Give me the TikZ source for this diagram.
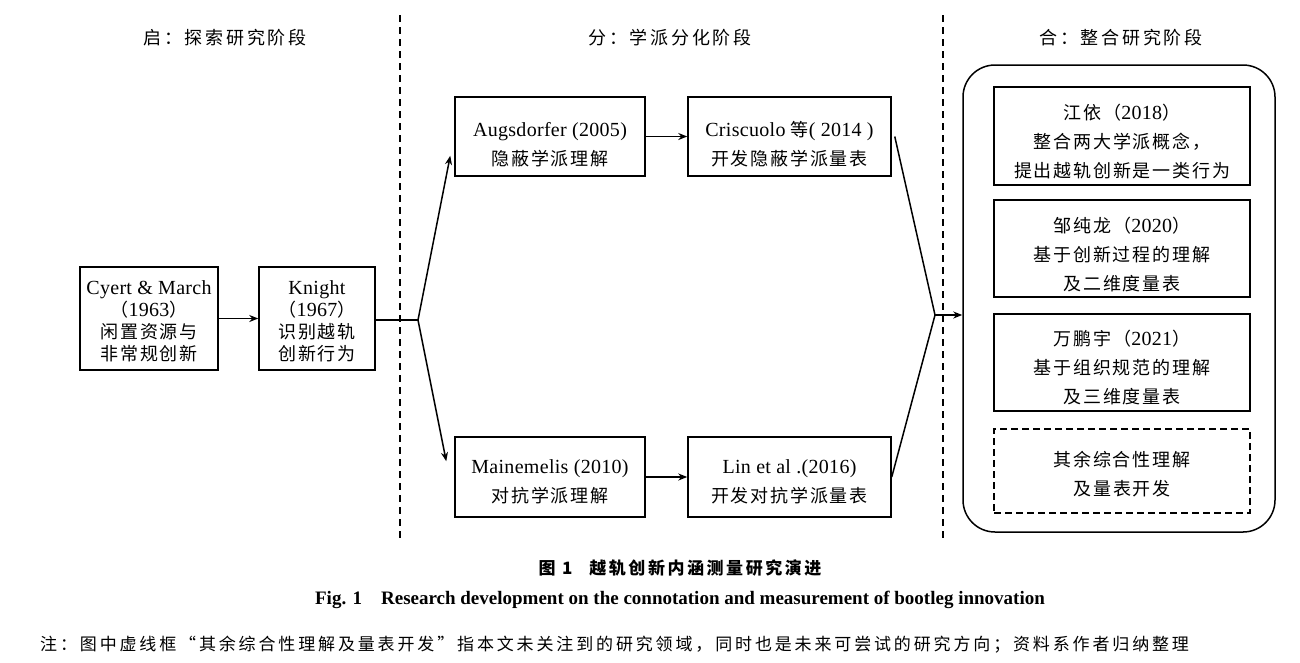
\documentclass[tikz,border=0pt]{standalone}
\usepackage{fontspec}
\setmainfont[LetterSpace=1.5]{Liberation Serif}
\newfontfamily\cjk[LetterSpace=15]{Noto Sans CJK SC}
\newfontfamily\cjkbox[LetterSpace=10]{Noto Sans CJK SC}
\newcommand\zh[1]{{\cjkbox\fontsize{18}{\baselineskip}\selectfont #1}}
\usetikzlibrary{arrows.meta,calc}
\tikzset{
  frame/.style={draw, line width=1.5pt, inner sep=0pt},
  txt/.style={align=center, inner sep=0pt, font=\fontsize{20}{29}\selectfont},
  talltxt/.style={txt, font=\fontsize{20}{22}\selectfont},
  arr/.style={-{Stealth[length=9pt,width=7pt]}, line width=1.5pt},
  ln/.style={line width=1.5pt},
  sep/.style={line width=1.3pt, dash pattern=on 7pt off 5pt},
  head/.style={font=\cjk\fontsize{18}{20}\selectfont, inner sep=0pt},
}
\begin{document}
\begin{tikzpicture}[x=1pt,y=-1pt]
\useasboundingbox (0,0) rectangle (1300,662);
% headers
\node[head] (h1) at (225,38) {启：探索研究阶段};
\node[head] (h2) at (670,38) {分：学派分化阶段};
\node[head] (h3) at (1121,38) {合：整合研究阶段};
% separators
\coordinate (s1t) at (400,15); \coordinate (s1b) at (400,540);
\coordinate (s2t) at (943,15); \coordinate (s2b) at (943,540);
\draw[sep] (s1t) -- (s1b);
\draw[sep] (s2t) -- (s2b);
% stage 1
\node[frame, minimum width=138pt, minimum height=103pt] (cy) at (149,318.5) {};
\node[talltxt] (cyt) at ($(cy)+(0,3)$)
  {Cyert \& March\\\zh{（}1963\zh{）}\\\zh{闲置资源与}\\\zh{非常规创新}};
\node[frame, minimum width=116pt, minimum height=103pt] (kn) at (317,318.5) {};
\node[talltxt] (knt) at ($(kn)+(0,3)$)
  {Knight\\\zh{（}1967\zh{）}\\\zh{识别越轨}\\\zh{创新行为}};
\draw[arr] (cy.east) -- (kn.west);
% stage 2
\node[frame, minimum width=190pt, minimum height=79pt] (au) at (550,136.5) {};
\node[txt] (aut) at ($(au)+(0,8)$) {Augsdorfer (2005)\\\zh{隐蔽学派理解}};
\node[frame, minimum width=203pt, minimum height=79pt] (cr) at (789.5,136.5) {};
\node[txt] (crt) at ($(cr)+(0,8)$) {Criscuolo \zh{等}( 2014 )\\\zh{开发隐蔽学派量表}};
\node[frame, minimum width=190pt, minimum height=80pt] (ma) at (550,477) {};
\node[txt] (mat) at ($(ma)+(0,5)$) {Mainemelis (2010)\\\zh{对抗学派理解}};
\node[frame, minimum width=203pt, minimum height=80pt] (li) at (789.5,477) {};
\node[txt] (lit) at ($(li)+(0,5)$) {Lin et al .(2016)\\\zh{开发对抗学派量表}};
\draw[arr] (au.east) -- (cr.west);
\draw[arr] (ma.east) -- (li.west);
\coordinate (j1) at (418,320);
\coordinate (t1) at ($(au.south west)+(-4,-21)$);
\coordinate (t2) at ($(ma.north west)+(-8,25)$);
\draw[ln] (kn.east |- j1) -- (j1);
\draw[arr] (j1) -- (t1);
\draw[arr] (j1) -- (t2);
% stage 3
\node[draw, line width=1.5pt, rounded corners=32pt, minimum width=312pt, minimum height=467pt] (big) at (1119,298.5) {};
\node[frame, minimum width=256pt, minimum height=98pt] (jy) at (1122,136) {};
\node[txt] (jyt) at ($(jy)+(0,6)$)
  {\zh{江依（}2018\zh{）}\\\zh{整合两大学派概念，}\\\zh{提出越轨创新是一类行为}};
\node[frame, minimum width=256pt, minimum height=97pt] (zc) at (1122,248.5) {};
\node[txt] (zct) at ($(zc)+(0,6)$)
  {\zh{邹纯龙（}2020\zh{）}\\\zh{基于创新过程的理解}\\\zh{及二维度量表}};
\node[frame, minimum width=256pt, minimum height=97pt] (wp) at (1122,362.5) {};
\node[txt] (wpt) at ($(wp)+(0,5)$)
  {\zh{万鹏宇（}2021\zh{）}\\\zh{基于组织规范的理解}\\\zh{及三维度量表}};
\node[frame, dash pattern=on 7pt off 4pt, minimum width=256pt, minimum height=84pt] (qy) at (1122,471) {};
\node[txt] (qyt) at ($(qy)+(0,3)$) {\zh{其余综合性理解}\\\zh{及量表开发}};
\coordinate (j2) at (935,315);
\draw[ln] ($(cr.east)+(3,0)$) -- (j2);
\draw[ln] (li.east) -- (j2);
\draw[arr] (j2) -- (big.west |- j2);
% captions
\node[inner sep=0pt, font=\cjk\bfseries\fontsize{17}{20}\selectfont] (c1) at (680,568) {图 1\quad 越轨创新内涵测量研究演进};
\node[inner sep=0pt, font=\bfseries\fontsize{19}{22}\selectfont\addfontfeature{LetterSpace=0}] (c2) at (680,600) {Fig. 1\quad Research development on the connotation and measurement of bootleg innovation};
\node[inner sep=0pt, anchor=west, font=\cjk\fontsize{17}{20}\selectfont\addfontfeature{LetterSpace=16.8}] (c3) at (40,645) {注：图中虚线框“其余综合性理解及量表开发”指本文未关注到的研究领域，同时也是未来可尝试的研究方向；资料系作者归纳整理};
\end{tikzpicture}
\end{document}
